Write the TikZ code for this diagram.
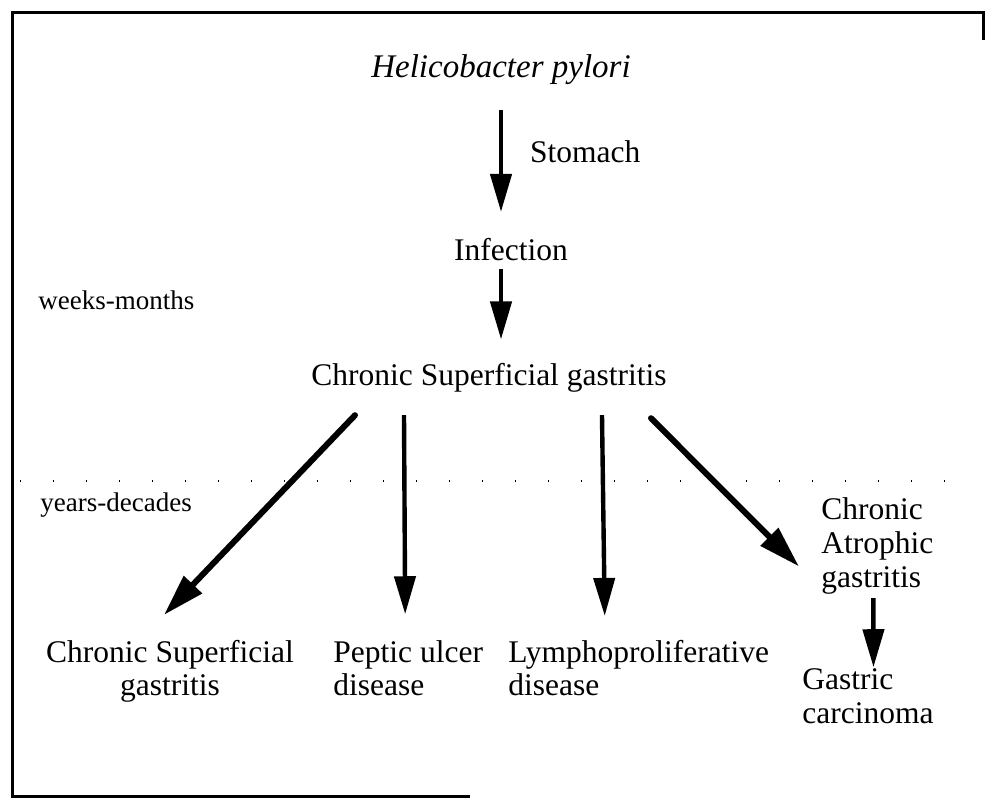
\documentclass[tikz,border=0pt]{standalone}
\usepackage{fontspec}
\setmainfont{Liberation Serif}
\usetikzlibrary{arrows.meta, positioning}
\tikzset{
	lbl/.style   ={inner sep=0pt, font=\fontsize{15.75}{16.5}\selectfont},
	lblr/.style  ={inner sep=0pt, font=\fontsize{15.75}{17}\selectfont},
	small/.style ={inner sep=0pt, font=\fontsize{13.5}{16}\selectfont},
	sig/.style   ={-{Triangle[length=19pt, width=10.5pt]}, line width=2.2pt},
	sigd/.style  ={-{Triangle[length=21pt, width=12pt]}, line width=3pt, line cap=round},
	frame/.style ={line width=1.5pt},
	% time scale marks
	period/.style={line width=0.7pt, dash pattern=on 0.7pt off 15.8pt},
}
\begin{document}
\begin{tikzpicture}[x=0.5pt, y=-0.5pt]
	\useasboundingbox (0,0) rectangle (987,812);
	\draw[frame] (983,40) -- (983,13) -- (12,13) -- (12,797) -- (470,797);
	\draw[period] (20,481) -- (975,481);

	\node[lbl, anchor=base, font=\fontsize{16.5}{18}\selectfont\itshape] (hp) at (501,78) {Helicobacter pylori};
	\node[lbl, anchor=base] (inf) at (511,261) {Infection};
	\node[small, anchor=base west] (wm) at (38,310) {weeks-months};
	\node[lbl, anchor=base] (csg) at (489,386) {Chronic Superficial gastritis};
	\node[small, anchor=base west] (yd) at (40,512) {years-decades};
	\node[lblr, anchor=base west, align=left] (cag) at (821,588) {Chronic\\Atrophic\\gastritis};
	\node[lblr, anchor=base west, align=left] (gc) at (802,724) {Gastric\\carcinoma};
	\node[lbl, anchor=base, align=center] (csg2) at (170,696) {Chronic Superficial\\gastritis};
	\node[lbl, anchor=base west, align=left] (pud) at (333,696) {Peptic ulcer\\disease};
	\node[lbl, anchor=base west, align=left] (lpd) at (508,696) {Lymphoproliferative\\disease};

	\draw[sig, shorten <=12pt, shorten >=13.25pt] (hp.south) -- node[lbl, right=13.5pt, pos=0.434] (stom) {Stomach} (hp.south |- inf.north);
	\draw[sig, shorten <=3.5pt, shorten >=12pt] (inf.south -| hp.south) -- (hp.south |- csg.north);
	\draw[sigd] ([shift={(-134,22)}]csg.south) -- ([shift={(-6,-25.5)}]csg2.north);
	\draw[sig] ([shift={(-85,22)}]csg.south) -- ([shift={(-3,-26.5)}]pud.north);
	\draw[sig] ([shift={(113,22)}]csg.south) -- ([shift={(-34,-24.5)}]lpd.north);
	\draw[sigd] ([shift={(162,25)}]csg.south) -- ([shift={(-22,20)}]cag.west);
	\draw[sig] ([shift={(-4,3)}]cag.south) -- ([shift={(5.5,-1.5)}]gc.north);
\end{tikzpicture}
\end{document}
